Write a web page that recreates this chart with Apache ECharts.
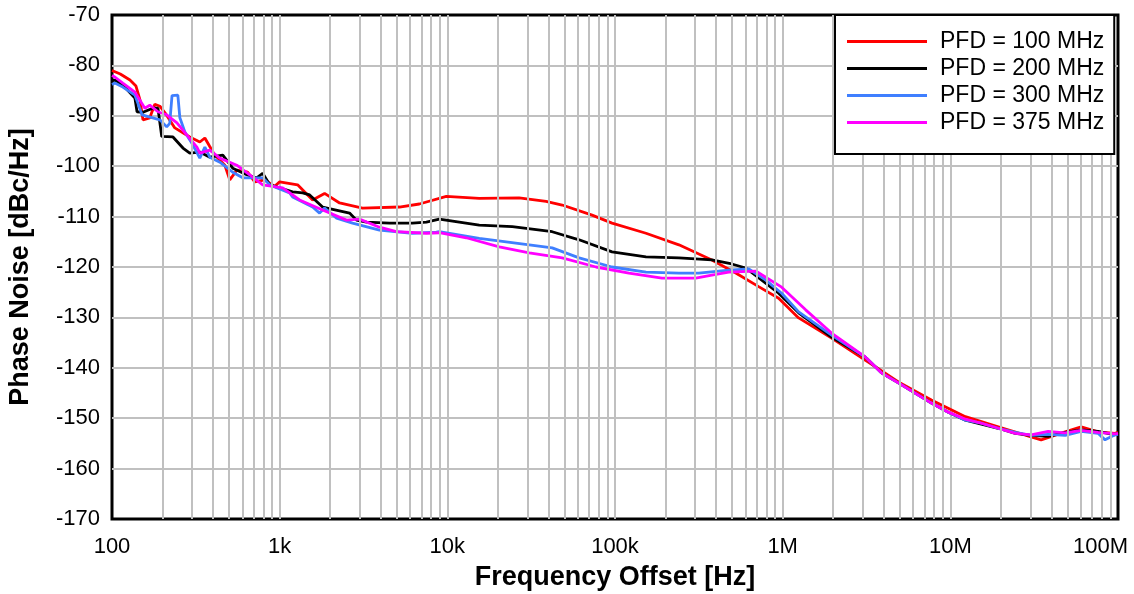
<!DOCTYPE html>
<html>
<head>
<meta charset="utf-8">
<script src="https://cdn.jsdelivr.net/npm/echarts@6/dist/echarts.min.js"></script>
<style>
html,body{margin:0;padding:0;background:#fff;}
#chart{width:1134px;height:594px;}
</style>
</head>
<body>
<div id="chart"></div>
<script>
//series names and colours
var seriesNames = ['PFD = 100 MHz','PFD = 200 MHz','PFD = 300 MHz','PFD = 375 MHz'];
var seriesColors = ['#ff0000','#000000','#3f7fff','#ff00ff'];

//x tick labels, one per decade from 100 Hz
var xTickText = ['100','1k','10k','100k','1M','10M','100M'];

//PFD = 100 MHz
var freq100 = [100,112,128,139,147,153,168,180,193,207,237,291,334,358,383,410,471,504,555,645,710,814,934,1000,1279,1572,1853,2276,3119,5180,6810,9860,15500,26800,38800,48400,73000,96000,153000,240500,378000,525000,719000,946000,1245000,1958000,3120000,4900000,7710000,12300000,19300000,30300000,34800000,48400000,60300000,76000000,96000000,100000000];
var pn100 = [-81.0,-81.7,-82.9,-84.1,-86.9,-90.8,-90.4,-87.7,-88.1,-89.4,-92.4,-94.2,-95.2,-94.4,-96.1,-97.8,-99.8,-102.7,-100.8,-101.2,-103.1,-102.7,-104.0,-103.1,-103.7,-106.7,-105.4,-107.3,-108.3,-108.1,-107.5,-106.0,-106.4,-106.3,-107.0,-107.7,-109.7,-111.3,-113.3,-115.6,-118.6,-121.2,-123.9,-126.2,-130.1,-134.1,-138.5,-142.8,-146.4,-149.7,-151.7,-153.7,-154.3,-152.7,-151.7,-152.7,-153.0,-152.8];

//PFD = 200 MHz
var freq200 = [100,104,116,137,141,153,175,188,198,231,265,291,334,383,458,525,636,730,792,872,1194,1371,1510,1803,2611,2873,3296,4518,6190,7500,8960,11780,15500,24400,42200,61100,96000,153000,240500,378000,497000,602000,750000,946000,1245000,1958000,3120000,3880000,4900000,7710000,9730000,12300000,15300000,19300000,24400000,30300000,38300000,48400000,60300000,76000000,96000000,100000000];
var pn200 = [-83.0,-82.9,-83.9,-86.5,-89.2,-89.3,-88.5,-88.5,-94.1,-94.2,-96.4,-97.4,-97.2,-98.2,-97.8,-100.4,-101.7,-102.3,-101.4,-103.7,-105.1,-105.3,-105.7,-108.1,-109.3,-110.7,-111.1,-111.3,-111.3,-111.1,-110.5,-111.1,-111.7,-112.0,-113.0,-114.6,-117.0,-118.0,-118.2,-118.6,-119.4,-120.2,-122.6,-125.2,-129.1,-133.9,-137.9,-141.0,-143.0,-147.0,-148.8,-150.4,-151.2,-152.0,-153.0,-153.4,-153.6,-152.8,-152.3,-152.6,-153.3,-153.0];

//PFD = 300 MHz
var freq300 = [100,104,116,137,151,175,193,212,221,228,231,247,254,272,304,334,358,383,440,525,602,792,872,1147,1194,1572,1730,1853,2184,2720,3937,6190,8600,8960,15500,30800,42200,61100,96000,153000,240500,316000,477000,628000,793000,986000,1245000,1958000,3120000,3880000,4900000,7710000,9730000,12300000,15300000,19300000,24400000,30300000,38300000,48400000,60300000,76000000,83700000,96000000,100000000];
var pn300 = [-83.8,-83.5,-84.3,-85.9,-89.8,-90.4,-90.8,-92.2,-91.5,-86.0,-85.9,-85.9,-90.4,-93.2,-95.8,-98.4,-96.2,-98.2,-99.2,-101.2,-102.3,-102.3,-103.7,-105.3,-106.1,-108.1,-109.3,-108.3,-110.3,-111.3,-112.7,-113.3,-113.1,-113.0,-114.3,-115.6,-116.2,-118.2,-120.0,-121.0,-121.2,-121.2,-120.6,-120.4,-122.6,-125.2,-128.9,-133.5,-137.9,-141.0,-143.0,-147.0,-148.8,-150.4,-151.0,-152.0,-152.8,-153.4,-153.2,-153.4,-152.6,-153.0,-154.3,-153.3,-153.2];

//PFD = 375 MHz
var freq375 = [100,104,116,137,157,168,188,212,244,279,321,334,383,440,555,663,792,1042,1315,1803,2506,2992,3937,4971,7500,8960,12970,20400,30800,48400,77100,121000,190500,303000,378000,477000,691000,986000,1371000,1958000,3120000,3880000,4900000,7710000,9730000,12300000,15300000,19300000,24400000,30300000,38300000,48400000,60300000,76000000,96000000,100000000];
var pn375 = [-82.0,-82.3,-83.5,-85.3,-88.5,-87.9,-89.2,-89.8,-91.4,-93.8,-96.2,-97.4,-96.8,-98.4,-99.8,-101.7,-103.7,-104.3,-106.7,-108.7,-110.7,-110.5,-112.1,-113.0,-113.3,-113.2,-114.2,-116.0,-117.2,-118.2,-120.0,-121.2,-122.2,-122.2,-121.6,-121.0,-120.8,-124.0,-128.5,-133.1,-137.9,-141.0,-143.0,-147.0,-148.8,-150.2,-151.0,-152.0,-153.0,-153.3,-152.6,-152.9,-152.4,-152.8,-153.1,-153.0];

var freqs = [freq100, freq200, freq300, freq375];
var values = [pn100, pn200, pn300, pn375];

//pair up frequency and value
function toPairs(f, v){
	var out = [];
	for(var i=0;i<f.length;i++){
		out.push([f[i], v[i]]);
	}
	return out;
}

//minor grid lines at 2..9 in every decade
var minorGrid = [];
for(var d=2; d<8; d++){
	for(var m=2; m<=9; m++){
		minorGrid.push({xAxis: m*Math.pow(10,d)});
	}
}

var font = 'Arial, "Liberation Sans", sans-serif';
var myChart = echarts.init(document.getElementById('chart'));

var series = [{
	name: 'grid',
	type: 'line',
	data: [],
	silent: true,
	z: 1,
	markLine: {
		silent: true,
		symbol: ['none','none'],
		label: {show: false},
		lineStyle: {color: '#c0c0c0', width: 2, type: 'solid'},
		data: minorGrid
	}
}];
for(var s=0;s<seriesNames.length;s++){
	series.push({
		name: seriesNames[s],
		type: 'line',
		data: toPairs(freqs[s], values[s]),
		showSymbol: false,
		symbol: 'none',
		lineStyle: {color: seriesColors[s], width: 2.8},
		itemStyle: {color: seriesColors[s]},
		z: 2
	});
}

myChart.setOption({
	animation: false,
	grid: {
		left: 112, right: 16, top: 15, bottom: 75,
		outerBoundsMode: 'none',
		containLabel: false,
		show: true,
		borderColor: '#000',
		borderWidth: 3,
		backgroundColor: '#fff'
	},
	legend: {
		data: seriesNames,
		left: 835,
		top: 15,
		z: 20,
		orient: 'vertical',
		icon: 'rect',
		itemWidth: 80,
		itemHeight: 3,
		itemGap: 4,
		padding: [15, 10, 20, 12],
		borderColor: '#000',
		borderWidth: 2,
		backgroundColor: '#fff',
		textStyle: {fontFamily: font, fontSize: 23, color: '#000', padding: [0,0,0,8]}
	},
	xAxis: {
		type: 'log',
		logBase: 10,
		min: 100,
		max: 100000000,
		splitNumber: 6,
		name: 'Frequency Offset [Hz]',
		nameLocation: 'middle',
		nameGap: 45,
		nameTextStyle: {fontFamily: font, fontSize: 27, fontWeight: 'bold', color: '#000'},
		axisLine: {show: false},
		axisTick: {show: false},
		axisLabel: {
			fontFamily: font, fontSize: 22, color: '#000', margin: 17,
			formatter: function(v){
				var k = Math.round(Math.log10(v)) - 2;
				if(k == xTickText.length - 1) return '{last|' + xTickText[k] + '}';
				return xTickText[k];
			},
			rich: {
				last: {fontFamily: font, fontSize: 22, color: '#000', padding: [0, 35, 0, 0]}
			}
		},
		splitLine: {show: true, showMinLine: false, showMaxLine: false, lineStyle: {color: '#c0c0c0', width: 2}}
	},
	yAxis: {
		type: 'value',
		min: -170,
		max: -70,
		interval: 10,
		name: 'Phase Noise [dBc/Hz]',
		nameLocation: 'middle',
		nameGap: 78,
		nameTextStyle: {fontFamily: font, fontSize: 27, fontWeight: 'bold', color: '#000'},
		axisLine: {show: false},
		axisTick: {show: false},
		axisLabel: {fontFamily: font, fontSize: 22, color: '#000', margin: 12},
		splitLine: {show: true, showMinLine: false, showMaxLine: false, lineStyle: {color: '#c0c0c0', width: 2}}
	},
	series: series
});
</script>
</body>
</html>
